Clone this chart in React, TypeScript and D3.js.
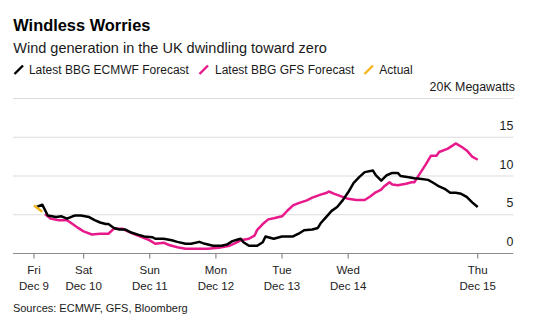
import React from "react";
import * as d3 from "d3";

// Hours since the start of the chart (Dec 9, ~06:00)
const actualHours = [0, 3];
const actualValues = [6.2, 5.4];

const ecmwfHours = [1, 3, 5, 8, 10, 12, 14, 15, 17, 20, 22, 24, 26, 27, 29, 31, 33, 35, 38, 40, 43, 44, 47, 50, 52, 55, 57, 60, 62, 65, 68, 70, 72, 74, 75, 76, 78, 81, 83, 84, 86, 87, 90, 94, 96, 98, 101, 103, 104, 106, 108, 110, 112, 114, 116, 118, 120, 123, 124, 126, 128, 130, 132, 133, 136, 138, 140, 143, 145, 147, 149, 151, 153, 155, 157, 159, 161];
const ecmwfValues = [6.0, 6.3, 4.9, 4.7, 4.8, 4.5, 4.8, 4.9, 4.9, 4.7, 4.3, 4.0, 3.8, 3.8, 3.3, 3.1, 3.1, 2.75, 2.4, 2.2, 2.1, 1.9, 1.9, 1.7, 1.5, 1.25, 1.25, 1.5, 1.25, 1.0, 1.0, 1.15, 1.6, 1.8, 1.9, 1.45, 1.0, 1.0, 1.45, 2.2, 2.0, 1.9, 2.2, 2.2, 2.55, 3.0, 3.1, 3.3, 3.9, 4.7, 5.5, 6.0, 6.85, 7.9, 9.1, 9.85, 10.5, 10.7, 10.1, 9.4, 10.1, 10.4, 10.4, 10.0, 9.85, 9.7, 9.65, 9.5, 9.1, 8.65, 8.35, 7.85, 7.85, 7.7, 7.3, 6.6, 6.0];

const gfsHours = [4, 6, 9, 12, 14, 16, 18, 21, 24, 27, 29, 32, 34, 37, 40, 42, 44, 47, 49, 52, 55, 58, 61, 63, 67, 71, 73, 75, 78, 80, 81, 83, 85, 87, 90, 92, 94, 96, 99, 101, 104, 106, 107, 109, 112, 114, 117, 118, 120, 122, 124, 126, 127, 129, 130, 132, 135, 137, 138, 140, 142, 144, 146, 147, 150, 152, 153, 155, 157, 159, 161];
const gfsValues = [5.1, 4.5, 4.3, 4.3, 3.8, 3.3, 2.85, 2.45, 2.55, 2.55, 3.2, 3.2, 2.85, 2.4, 2.0, 1.7, 1.25, 1.4, 1.1, 0.8, 0.6, 0.6, 0.6, 0.6, 0.75, 1.0, 1.35, 1.7, 1.9, 2.3, 3.05, 3.8, 4.4, 4.55, 4.8, 5.55, 6.2, 6.5, 6.85, 7.2, 7.6, 7.8, 8.0, 7.7, 7.3, 7.05, 6.9, 6.9, 6.9, 7.35, 7.9, 8.25, 8.65, 9.2, 8.9, 8.8, 9.0, 9.2, 9.2, 10.3, 11.4, 12.6, 12.6, 13.1, 13.5, 13.95, 14.2, 13.8, 13.3, 12.5, 12.1];

const tickHours = [0, 18, 42, 66, 90, 114, 161];
const tickDays = ["Fri", "Sat", "Sun", "Mon", "Tue", "Wed", "Thu"];
const tickDates = ["Dec 9", "Dec 10", "Dec 11", "Dec 12", "Dec 13", "Dec 14", "Dec 15"];

const yTicks = [0, 5, 10, 15, 20];
const yTickLabels = ["0", "5", "10", "15", "20K Megawatts"];

const legendLabels = ["Latest BBG ECMWF Forecast", "Latest BBG GFS Forecast", "Actual"];

const START = Date.UTC(2022, 11, 9, 6);
const toDate = (h: number) => new Date(START + h * 3600 * 1000);

const COLORS = { ecmwf: "#000000", gfs: "#e8198b", actual: "#f5b51c" };
const FONT = "'Liberation Sans', Arial, Helvetica, sans-serif";

export default function App() {
  const x = d3
    .scaleTime()
    .domain([toDate(0), toDate(161)])
    .range([34, 477.7]);
  const y = d3.scaleLinear().domain([0, 20]).range([253.5, 98.5]);

  const line = d3
    .line<[number, number]>()
    .x((d) => x(toDate(d[0])))
    .y((d) => y(d[1]));

  const zip = (hs: number[], vs: number[]) => hs.map((h, i) => [h, vs[i]] as [number, number]);

  const left = 13;
  const right = 513.3;

  const legendItems = [
    { label: legendLabels[0], color: COLORS.ecmwf, sx: 14.5, tx: 28.9 },
    { label: legendLabels[1], color: COLORS.gfs, sx: 199.5, tx: 215 },
    { label: legendLabels[2], color: COLORS.actual, sx: 364.5, tx: 379.3 },
  ];

  return (
    <>
      <style>{`body{margin:0}`}</style>
      <svg width={534} height={328} style={{ display: "block", background: "#fff" }} fontFamily={FONT}>
        <text x={13.3} y={31} fontSize={16.4} fontWeight="bold" fill="#000">
          Windless Worries
        </text>
        <text x={13.3} y={53} fontSize={14.5} fill="#1a1a1a">
          Wind generation in the UK dwindling toward zero
        </text>
        {legendItems.map((it) => (
          <g key={it.label}>
            <line x1={it.sx} y1={74} x2={it.sx + 8.5} y2={65.5} stroke={it.color} strokeWidth={2.4} />
            <text x={it.tx} y={73.8} fontSize={12} fill="#1a1a1a">
              {it.label}
            </text>
          </g>
        ))}

        {yTicks.map((t, i) =>
          t === 0 ? null : (
            <line key={"g" + t} x1={left} x2={right} y1={y(t)} y2={y(t)} stroke="#dcdcdc" strokeWidth={1.2} />
          )
        )}
        {yTicks.map((t, i) => (
          <text
            key={"yl" + t}
            x={t === 20 ? 515 : right}
            y={y(t) - 7.5}
            fontSize={12.4}
            textAnchor="end"
            fill="#1a1a1a"
          >
            {yTickLabels[i]}
          </text>
        ))}

        <line x1={left} x2={right} y1={y(0)} y2={y(0)} stroke="#8c8c8c" strokeWidth={1.2} />
        {tickHours.map((h, i) => {
          const px = x(toDate(h));
          return (
            <g key={"xt" + h}>
              <line x1={px} x2={px} y1={y(0)} y2={y(0) + 5} stroke="#8c8c8c" strokeWidth={1.2} />
              <text x={px} y={274.4} fontSize={11.5} textAnchor="middle" fill="#222">
                {tickDays[i]}
              </text>
              <text x={px} y={289.7} fontSize={11.5} textAnchor="middle" fill="#222">
                {tickDates[i]}
              </text>
            </g>
          );
        })}

        <path d={line(zip(gfsHours, gfsValues)) || ""} fill="none" stroke={COLORS.gfs} strokeWidth={2.5} strokeLinejoin="round" />
        <path d={line(zip(ecmwfHours, ecmwfValues)) || ""} fill="none" stroke={COLORS.ecmwf} strokeWidth={2.5} strokeLinejoin="round" />
        <path d={line(zip(actualHours, actualValues)) || ""} fill="none" stroke={COLORS.actual} strokeWidth={2.5} strokeLinejoin="round" />

        <text x={12.9} y={312} fontSize={11} fill="#1a1a1a">
          Sources: ECMWF, GFS, Bloomberg
        </text>
      </svg>
    </>
  );
}
